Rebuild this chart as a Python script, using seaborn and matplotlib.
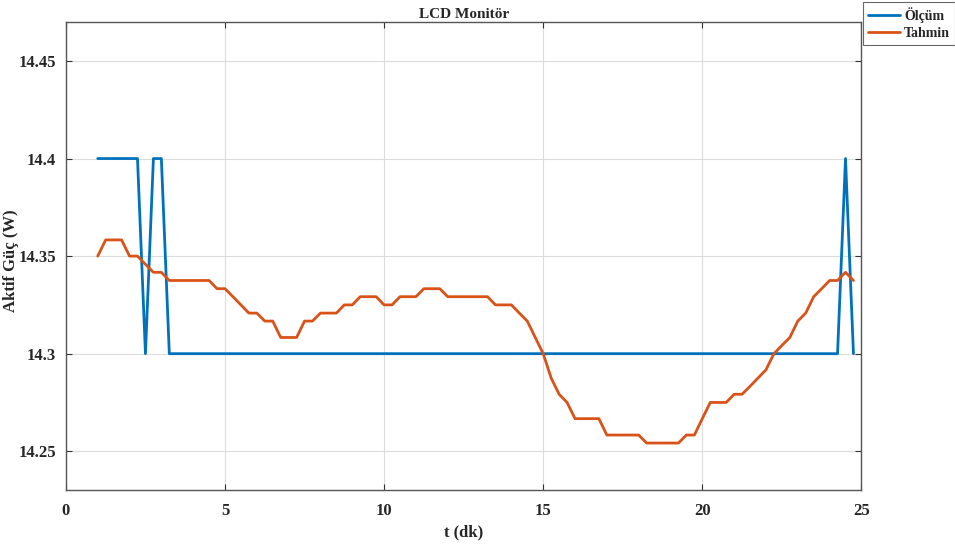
import matplotlib.pyplot as plt
import matplotlib.ticker as mticker
import numpy as np
import pandas as pd
import seaborn as sns

# time axis (minutes), one sample every 0.25 dk
t = np.arange(1, 25, 0.25)

# measured power
olcum = [14.4] * 6 + [14.3] + [14.4] * 2 + [14.3] * 85 + [14.4] + [14.3]

# predicted power
tahmin = [
    14.3500, 14.3583, 14.3583, 14.3583, 14.3500, 14.3500, 14.3458, 14.3417,
    14.3417, 14.3375, 14.3375, 14.3375, 14.3375, 14.3375, 14.3375, 14.3333,
    14.3333, 14.3292, 14.3250, 14.3208, 14.3208, 14.3167, 14.3167, 14.3083,
    14.3083, 14.3083, 14.3167, 14.3167, 14.3208, 14.3208, 14.3208, 14.3250,
    14.3250, 14.3292, 14.3292, 14.3292, 14.3250, 14.3250, 14.3292, 14.3292,
    14.3292, 14.3333, 14.3333, 14.3333, 14.3292, 14.3292, 14.3292, 14.3292,
    14.3292, 14.3292, 14.3250, 14.3250, 14.3250, 14.3208, 14.3167, 14.3083,
    14.3000, 14.2875, 14.2792, 14.2750, 14.2667, 14.2667, 14.2667, 14.2667,
    14.2583, 14.2583, 14.2583, 14.2583, 14.2583, 14.2542, 14.2542, 14.2542,
    14.2542, 14.2542, 14.2583, 14.2583, 14.2667, 14.2750, 14.2750, 14.2750,
    14.2792, 14.2792, 14.2833, 14.2875, 14.2917, 14.3000, 14.3042, 14.3083,
    14.3167, 14.3208, 14.3292, 14.3333, 14.3375, 14.3375, 14.3417, 14.3375,
]

series_names = ["Ölçüm", "Tahmin"]
colors = ["#0072BD", "#D95319"]

df = pd.DataFrame({"t": t, "Ölçüm": olcum, "Tahmin": tahmin})
df = df.melt(id_vars="t", var_name="seri", value_name="guc")

sns.set_style("whitegrid")
plt.rcParams["font.family"] = ["Liberation Serif", "DejaVu Serif"]
plt.rcParams["font.weight"] = "bold"

fig = plt.figure(figsize=(9.55, 5.49), dpi=100)
ax = fig.add_axes([0.069, 0.107, 0.833, 0.853])

sns.lineplot(data=df, x="t", y="guc", hue="seri", hue_order=series_names,
             palette=colors, linewidth=2, ax=ax)

ax.set_xlim(0, 25)
ax.set_ylim(14.23, 14.47)
ax.set_xticks([0, 5, 10, 15, 20, 25])
ax.set_yticks([14.25, 14.3, 14.35, 14.4, 14.45])
ax.yaxis.set_major_formatter(mticker.FormatStrFormatter("%g"))

ax.grid(True, color="#dcdcdc", linewidth=0.8)
for s in ax.spines.values():
    s.set_visible(True)
    s.set_color("#555555")
    s.set_linewidth(1.0)
ax.tick_params(direction="in", length=4, color="#333333", labelsize=12,
               top=True, right=True, bottom=True, left=True)
ax.tick_params(axis="x", pad=9)
ax.tick_params(axis="y", pad=7)
for lab in ax.get_xticklabels() + ax.get_yticklabels():
    lab.set_fontweight("bold")

ax.set_title("LCD Monitör", fontsize=11, fontweight="bold", pad=3)
ax.set_xlabel("t (dk)", fontsize=12, fontweight="bold", labelpad=4)
ax.set_ylabel("Aktif Güç (W)", fontsize=12, fontweight="bold")
ax.yaxis.set_label_coords(-0.059, 0.49)

leg = ax.legend(loc="upper left", bbox_to_anchor=(1.002, 1.043), frameon=True,
                fancybox=False, edgecolor="#444444", fontsize=10,
                handlelength=2.3, borderpad=0.35, labelspacing=0.3,
                handletextpad=0.3, borderaxespad=0)
leg.get_frame().set_linewidth(0.8)
for txt in leg.get_texts():
    txt.set_fontweight("bold")

fig.savefig("out.png", dpi=100)
